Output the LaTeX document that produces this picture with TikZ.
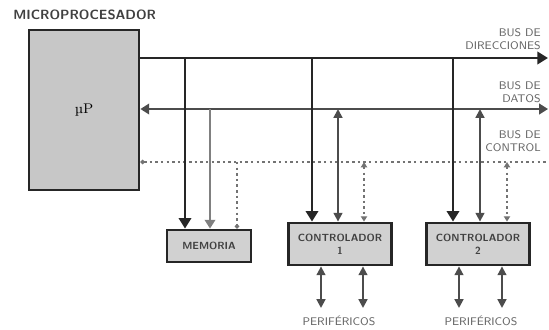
\documentclass[tikz,border=0pt]{standalone}
\usetikzlibrary{arrows.meta}
\begin{document}
\begin{tikzpicture}[x=0.02cm,y=-0.02cm,
  cpu/.style={draw=black!85,fill=black!22,line width=1.6pt,minimum width=2.2cm,minimum height=3.2cm,inner sep=0pt},
  unit/.style={draw=black!85,fill=black!18,line width=1.6pt,minimum width=2.07cm,minimum height=0.84cm,inner sep=0pt,align=center,font=\sffamily\fontsize{5.9}{7.5}\selectfont\bfseries,text=black!75},
  lbl/.style={font=\sffamily\fontsize{6.3}{7.6}\selectfont,text=black!60,align=right,inner sep=0pt},
  addr/.style={line width=1.4pt,draw=black!85},
  data/.style={line width=1.1pt,draw=black!70},
  ctrl/.style={line width=0.8pt,draw=black!55,dash pattern=on 1.4pt off 1.8pt},
  big/.style={-{Triangle[width=7pt,length=6pt]}},
  mid/.style={{Triangle[width=5pt,length=5pt]}-{Triangle[width=5pt,length=5pt]}}]
\useasboundingbox (0,0) rectangle (549,329);
% titulo
\node[inner sep=0pt,anchor=west,font=\sffamily\fontsize{7.6}{9}\selectfont\bfseries,text=black!75] (tit) at (13,15) {MICROPROCESADOR};
% bloques
\node[cpu] (up) at (84,110) {\fontsize{8}{9}\selectfont\textmu P};
\node[unit,minimum width=1.68cm,minimum height=0.64cm] (mem) at (209,246) {MEMORIA};%memoria
\node[unit] (c1) at (340,244) {CONTROLADOR\\1};%controlador 1
\node[unit] (c2) at (478,244) {CONTROLADOR\\2};%controlador 2
% extremos de los buses
\coordinate (aend) at (548,58);
\coordinate (dend) at (548,109);
\coordinate (cend) at (549,162);
% buses
\draw[addr,-{Triangle[width=7pt,length=6pt]}] (up.east |- aend) -- (aend);
\draw[data,{Triangle[width=6pt,length=5pt]}-{Triangle[width=6pt,length=5pt]}] (up.east |- dend) -- (dend);
\draw[ctrl,{Circle[length=2.5pt]}-] (up.east |- cend) -- (cend);
\node[lbl,anchor=east] (la) at (541,39) {BUS DE\\DIRECCIONES};
\node[lbl,anchor=east] (ld) at (541,92) {BUS DE\\DATOS};
\node[lbl,anchor=east] (lc) at (541,141) {BUS DE\\CONTROL};
% bajadas a la memoria
\coordinate (ma) at (185,58);
\coordinate (md) at (210,109);
\coordinate (mc) at (237,162);
\draw[addr,big] (ma) -- (ma |- mem.north);
\draw[data,draw=black!50,-{Triangle[width=6pt,length=5pt]}] (md) -- (md |- mem.north);
\draw[ctrl,-{Circle[length=2.5pt]}] (mc) -- (mc |- mem.north);
% bajadas al controlador 1
\coordinate (1a) at (312,58);
\coordinate (1d) at (338,109);
\coordinate (1c) at (364,162);
\draw[addr,big] (1a) -- (1a |- c1.north);
\draw[data,mid] (1d) -- (1d |- c1.north);
\draw[ctrl,{Triangle[width=3.5pt,length=3pt]}-{Triangle[width=3.5pt,length=3pt]}] (1c) -- (1c |- c1.north);
% bajadas al controlador 2
\coordinate (2a) at (453,58);
\coordinate (2d) at (480,109);
\coordinate (2c) at (507,162);
\draw[addr,big] (2a) -- (2a |- c2.north);
\draw[data,mid] (2d) -- (2d |- c2.north);
\draw[ctrl,{Triangle[width=3.5pt,length=3pt]}-{Triangle[width=3.5pt,length=3pt]}] (2c) -- (2c |- c2.north);
% perifericos
\coordinate (p1a) at (321,308);
\coordinate (p1b) at (363,308);
\coordinate (p2a) at (459,308);
\coordinate (p2b) at (502,308);
\draw[data,mid] (c1.south -| p1a) -- (p1a);
\draw[data,mid] (c1.south -| p1b) -- (p1b);
\draw[data,mid] (c2.south -| p2a) -- (p2a);
\draw[data,mid] (c2.south -| p2b) -- (p2b);
\node[lbl,align=center] (per1) at (339,321) {PERIFÉRICOS};
\node[lbl,align=center] (per2) at (481,321) {PERIFÉRICOS};
\end{tikzpicture}
\end{document}
